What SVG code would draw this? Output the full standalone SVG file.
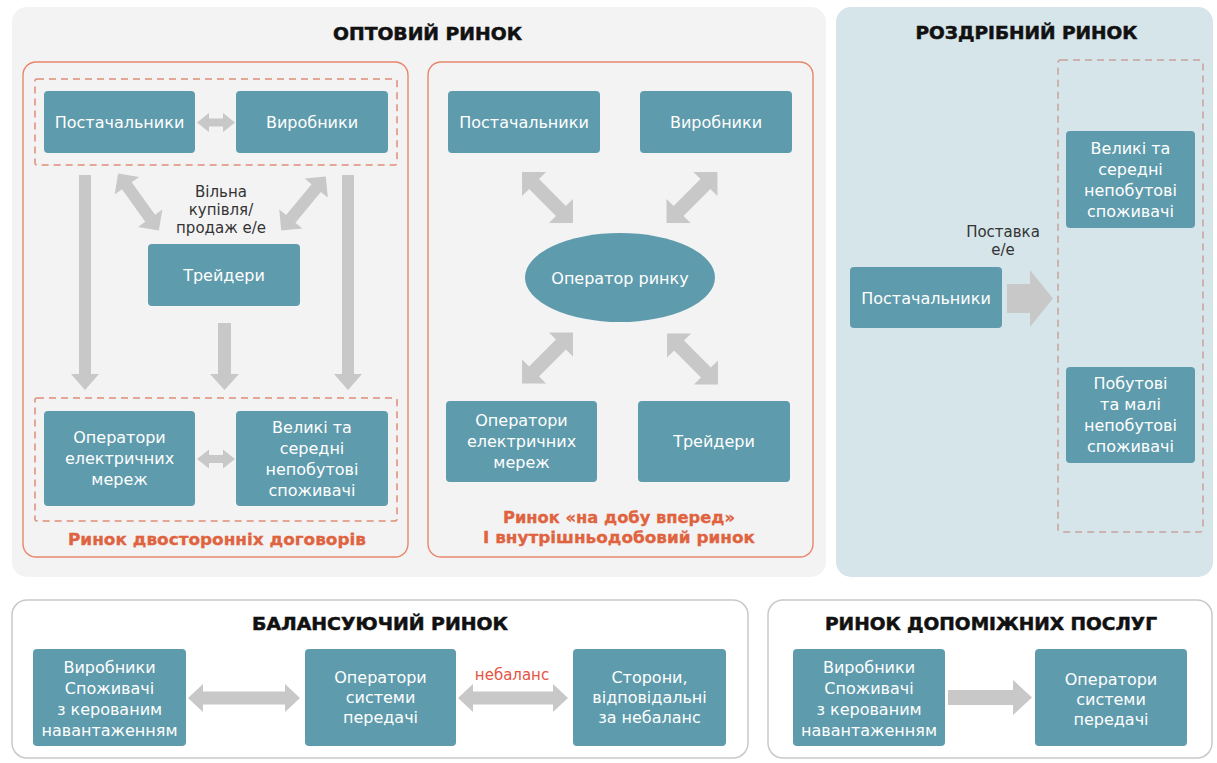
<svg xmlns="http://www.w3.org/2000/svg" xmlns:xlink="http://www.w3.org/1999/xlink" width="1217" height="763" viewBox="0 0 1217 763">
  <style>
    .panel-w { fill: #f3f3f3; }
    .panel-r { fill: #d6e5ea; }
    .panel-b { fill: #ffffff; stroke: #c9c9c9; stroke-width: 1.5; }
    .frame { fill: none; stroke: #e8866c; stroke-width: 1.4; }
    .dash { fill: none; stroke: #df8d78; stroke-width: 1.5; stroke-dasharray: 7 5; }
    .dash-r { fill: none; stroke: #c9a29c; stroke-width: 1.5; stroke-dasharray: 7 5; }
    .box { fill: #5e9bac; }
    .arr { fill: #c8c8c8; }
    .t { font-family: "DejaVu Sans", "Liberation Sans", sans-serif; font-size: 16px; fill: #ffffff; text-anchor: middle; }
    .title { font-family: "DejaVu Sans", "Liberation Sans", sans-serif; font-weight: bold; font-size: 17px; fill: #111111; stroke: #111111; stroke-width: 0.5; text-anchor: middle; }
    .note { font-family: "DejaVu Sans", "Liberation Sans", sans-serif; font-size: 15px; fill: #333333; text-anchor: middle; }
    .lab { font-family: "DejaVu Sans", "Liberation Sans", sans-serif; font-weight: bold; font-size: 16px; fill: #e0633f; stroke: #e0633f; stroke-width: 0.3; text-anchor: middle; }
    .red { font-family: "DejaVu Sans", "Liberation Sans", sans-serif; font-size: 15px; fill: #e4543f; text-anchor: middle; }
  </style>
  <defs>
    <!-- block double arrows, drawn along the x axis and rotated in place -->
    <path id="dbl-m" d="M-36,0 L-19,-17 L-19,-7 L19,-7 L19,-17 L36,0 L19,17 L19,7 L-19,7 L-19,17 Z"/>
    <path id="dbl-l" d="M-35,0 L-20,-15 L-20,-6 L20,-6 L20,-15 L35,0 L20,15 L20,6 L-20,6 L-20,15 Z"/>
  </defs>

  <!-- background panels -->
  <g id="panels">
    <rect class="panel-w" x="12" y="7" width="814" height="570" rx="15"/>
    <rect class="panel-r" x="836" y="7" width="377" height="570" rx="15"/>
    <rect class="panel-b" x="12" y="600" width="736" height="158" rx="15"/>
    <rect class="panel-b" x="768" y="600" width="444" height="158" rx="15"/>
  </g>

  <!-- section titles -->
  <g id="titles">
    <text class="title" x="427.5" y="40" textLength="189" lengthAdjust="spacingAndGlyphs">ОПТОВИЙ РИНОК</text>
    <text class="title" x="1026.5" y="39" textLength="222" lengthAdjust="spacingAndGlyphs">РОЗДРІБНИЙ РИНОК</text>
    <text class="title" x="380" y="630" textLength="256" lengthAdjust="spacingAndGlyphs">БАЛАНСУЮЧИЙ РИНОК</text>
    <text class="title" x="991" y="630" textLength="332" lengthAdjust="spacingAndGlyphs">РИНОК ДОПОМІЖНИХ ПОСЛУГ</text>
  </g>

  <!-- market frames -->
  <g id="frames">
    <rect class="frame" x="23" y="62" width="385" height="495" rx="13"/>
    <rect class="frame" x="428" y="62" width="385" height="495" rx="13"/>
    <rect class="dash" x="35" y="79" width="362" height="86" rx="2"/>
    <rect class="dash" x="35" y="398" width="362" height="123" rx="2"/>
    <rect class="dash-r" x="1058" y="60" width="145" height="472" rx="3"/>
    <text class="lab" x="217" y="545" textLength="298" lengthAdjust="spacingAndGlyphs">Ринок двосторонніх договорів</text>
    <text class="lab" x="619" y="523" textLength="232" lengthAdjust="spacingAndGlyphs">Ринок «на добу вперед»</text>
    <text class="lab" x="619" y="543" textLength="272" lengthAdjust="spacingAndGlyphs">І внутрішньодобовий ринок</text>
  </g>

  <!-- connectors -->
  <g id="connectors">
    <!-- bilateral market -->
    <polygon class="arr" points="197,122.5 209,113 209,118.5 223,118.5 223,113 235,122.5 223,132 223,126.5 209,126.5 209,132"/>
    <polygon class="arr" points="197,459 209,449.5 209,455 223,455 223,449.5 235,459 223,468.5 223,463 209,463 209,468.5"/>
    <use xlink:href="#dbl-l" class="arr" transform="translate(138.5,202) rotate(54.4)"/>
    <use xlink:href="#dbl-l" class="arr" transform="translate(303.5,203.5) rotate(129.5)"/>
    <polygon class="arr" points="79,175 91,175 91,374 99,374 85,390 71,374 79,374"/>
    <polygon class="arr" points="218,323 231,323 231,374 239,374 224.5,390 210,374 218,374"/>
    <polygon class="arr" points="342,175 354,175 354,374 362,374 348,390 334,374 342,374"/>
    <!-- day-ahead / intraday market -->
    <use xlink:href="#dbl-m" class="arr" transform="translate(547.5,197.5) rotate(45)"/>
    <use xlink:href="#dbl-m" class="arr" transform="translate(692,197.5) rotate(135)"/>
    <use xlink:href="#dbl-m" class="arr" transform="translate(547.5,358) rotate(135)"/>
    <use xlink:href="#dbl-m" class="arr" transform="translate(692.5,359) rotate(45)"/>
    <!-- retail supply -->
    <polygon class="arr" points="1007,284 1030,284 1030,270 1053,298.5 1030,327 1030,313 1007,313"/>
    <text class="note" x="1003" y="237">Поставка</text>
    <text class="note" x="1003" y="255">е/е</text>
    <!-- balancing market -->
    <polygon class="arr" points="188,698 203,684 203,691.5 285,691.5 285,684 300,698 285,712 285,704.5 203,704.5 203,712"/>
    <polygon class="arr" points="458,698 473,684 473,691.5 553,691.5 553,684 568,698 553,712 553,704.5 473,704.5 473,712"/>
    <text class="red" x="512" y="680">небаланс</text>
    <!-- ancillary services -->
    <polygon class="arr" points="948,690 1013,690 1013,680 1032,697.5 1013,715 1013,705 948,705"/>
  </g>

  <!-- bilateral contracts nodes -->
  <g id="bil-suppliers">
    <rect class="box" x="44" y="91" width="151" height="62" rx="4"/>
    <text class="t" x="119.5" y="128">Постачальники</text>
  </g>
  <g id="bil-producers">
    <rect class="box" x="236" y="91" width="152" height="62" rx="4"/>
    <text class="t" x="312" y="128">Виробники</text>
  </g>
  <g id="bil-note">
    <text class="note" x="221" y="197">Вільна</text>
    <text class="note" x="221" y="215">купівля/</text>
    <text class="note" x="221" y="233">продаж е/е</text>
  </g>
  <g id="bil-traders">
    <rect class="box" x="148" y="244" width="152" height="62" rx="4"/>
    <text class="t" x="224" y="281">Трейдери</text>
  </g>
  <g id="bil-grid">
    <rect class="box" x="44" y="411" width="151" height="95" rx="4"/>
    <text class="t" x="119.5" y="443">Оператори</text>
    <text class="t" x="119.5" y="464">електричних</text>
    <text class="t" x="119.5" y="485">мереж</text>
  </g>
  <g id="bil-consumers">
    <rect class="box" x="236" y="411" width="152" height="95" rx="4"/>
    <text class="t" x="312" y="433">Великі та</text>
    <text class="t" x="312" y="454">середні</text>
    <text class="t" x="312" y="475">непобутові</text>
    <text class="t" x="312" y="496">споживачі</text>
  </g>

  <!-- day-ahead / intraday nodes -->
  <g id="dam-suppliers">
    <rect class="box" x="448" y="91" width="152" height="62" rx="4"/>
    <text class="t" x="524" y="128">Постачальники</text>
  </g>
  <g id="dam-producers">
    <rect class="box" x="640" y="91" width="152" height="62" rx="4"/>
    <text class="t" x="716" y="128">Виробники</text>
  </g>
  <g id="dam-operator">
    <ellipse class="box" cx="620" cy="277.5" rx="95" ry="44.5"/>
    <text class="t" x="620" y="284">Оператор ринку</text>
  </g>
  <g id="dam-grid">
    <rect class="box" x="446" y="401" width="151" height="81" rx="4"/>
    <text class="t" x="521.5" y="426">Оператори</text>
    <text class="t" x="521.5" y="447">електричних</text>
    <text class="t" x="521.5" y="468">мереж</text>
  </g>
  <g id="dam-traders">
    <rect class="box" x="638" y="401" width="152" height="81" rx="4"/>
    <text class="t" x="714" y="447">Трейдери</text>
  </g>

  <!-- retail nodes -->
  <g id="ret-suppliers">
    <rect class="box" x="850" y="267" width="152" height="61" rx="4"/>
    <text class="t" x="926" y="304">Постачальники</text>
  </g>
  <g id="ret-large">
    <rect class="box" x="1066" y="131" width="129" height="97" rx="4"/>
    <text class="t" x="1130.5" y="154">Великі та</text>
    <text class="t" x="1130.5" y="175">середні</text>
    <text class="t" x="1130.5" y="196">непобутові</text>
    <text class="t" x="1130.5" y="217">споживачі</text>
  </g>
  <g id="ret-small">
    <rect class="box" x="1066" y="367" width="129" height="96" rx="4"/>
    <text class="t" x="1130.5" y="389">Побутові</text>
    <text class="t" x="1130.5" y="410">та малі</text>
    <text class="t" x="1130.5" y="431">непобутові</text>
    <text class="t" x="1130.5" y="452">споживачі</text>
  </g>

  <!-- balancing market nodes -->
  <g id="bal-units">
    <rect class="box" x="33" y="649" width="153" height="97" rx="4"/>
    <text class="t" x="109.5" y="673">Виробники</text>
    <text class="t" x="109.5" y="694">Споживачі</text>
    <text class="t" x="109.5" y="715">з керованим</text>
    <text class="t" x="109.5" y="736">навантаженням</text>
  </g>
  <g id="bal-tso">
    <rect class="box" x="305" y="649" width="151" height="97" rx="4"/>
    <text class="t" x="380.5" y="683">Оператори</text>
    <text class="t" x="380.5" y="703">системи</text>
    <text class="t" x="380.5" y="723">передачі</text>
  </g>
  <g id="bal-brp">
    <rect class="box" x="573" y="649" width="153" height="97" rx="4"/>
    <text class="t" x="649.5" y="683">Сторони,</text>
    <text class="t" x="649.5" y="703">відповідальні</text>
    <text class="t" x="649.5" y="723">за небаланс</text>
  </g>

  <!-- ancillary services nodes -->
  <g id="anc-units">
    <rect class="box" x="793" y="649" width="152" height="97" rx="4"/>
    <text class="t" x="869" y="673">Виробники</text>
    <text class="t" x="869" y="694">Споживачі</text>
    <text class="t" x="869" y="715">з керованим</text>
    <text class="t" x="869" y="736">навантаженням</text>
  </g>
  <g id="anc-tso">
    <rect class="box" x="1035" y="649" width="152" height="97" rx="4"/>
    <text class="t" x="1111" y="685">Оператори</text>
    <text class="t" x="1111" y="705">системи</text>
    <text class="t" x="1111" y="725">передачі</text>
  </g>
</svg>
